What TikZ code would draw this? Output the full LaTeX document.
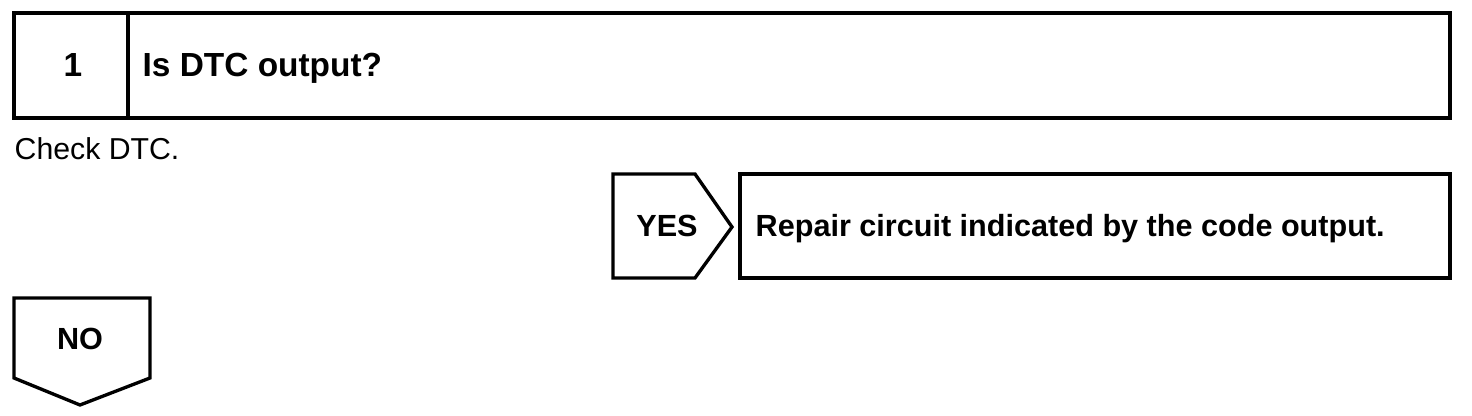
\documentclass[tikz,border=0pt]{standalone}
\usepackage{fontspec}
\setmainfont{Liberation Sans}
\usetikzlibrary{positioning}
\tikzset{
  frame/.style={draw, line width=0.95pt},
  titletxt/.style={font=\bfseries\fontsize{9.5}{11}\selectfont, inner sep=0pt},
  boldtxt/.style={font=\bfseries\fontsize{8.7}{10}\selectfont, inner sep=0pt},
  plaintxt/.style={font=\fontsize{8.6}{10}\selectfont, inner sep=0pt},
}

\begin{document}
\begin{tikzpicture}[x=0.01cm, y=-0.01cm]
\useasboundingbox (0,0) rectangle (1472,416);
% header
\draw[frame] (14,13) rectangle (1450,118);
\draw[frame] (128,13) -- (128,118);
\node[titletxt, anchor=base] (stepnum) at (73,77) {1};
\node[titletxt, anchor=base west] (question) at (142,77) {Is DTC output?};
\node[plaintxt, anchor=base west] (check) at (14,160) {Check DTC.};
% yes branch
\draw[frame] (613,174) -- (695,174) -- (732,227) -- (695,278) -- (613,278) -- cycle;
\node[boldtxt, anchor=base] (yes) at (667,237) {YES};
\draw[frame] (740,174) rectangle (1450,278);
\node[boldtxt, anchor=base west] (repair) at (755,237) {Repair circuit indicated by the code output.};
% no branch
\draw[frame] (14,298) -- (150,298) -- (150,378) -- (80,405) -- (14,378) -- cycle;
\node[boldtxt, anchor=base] (no) at (80,350) {NO};
\end{tikzpicture}
\end{document}
